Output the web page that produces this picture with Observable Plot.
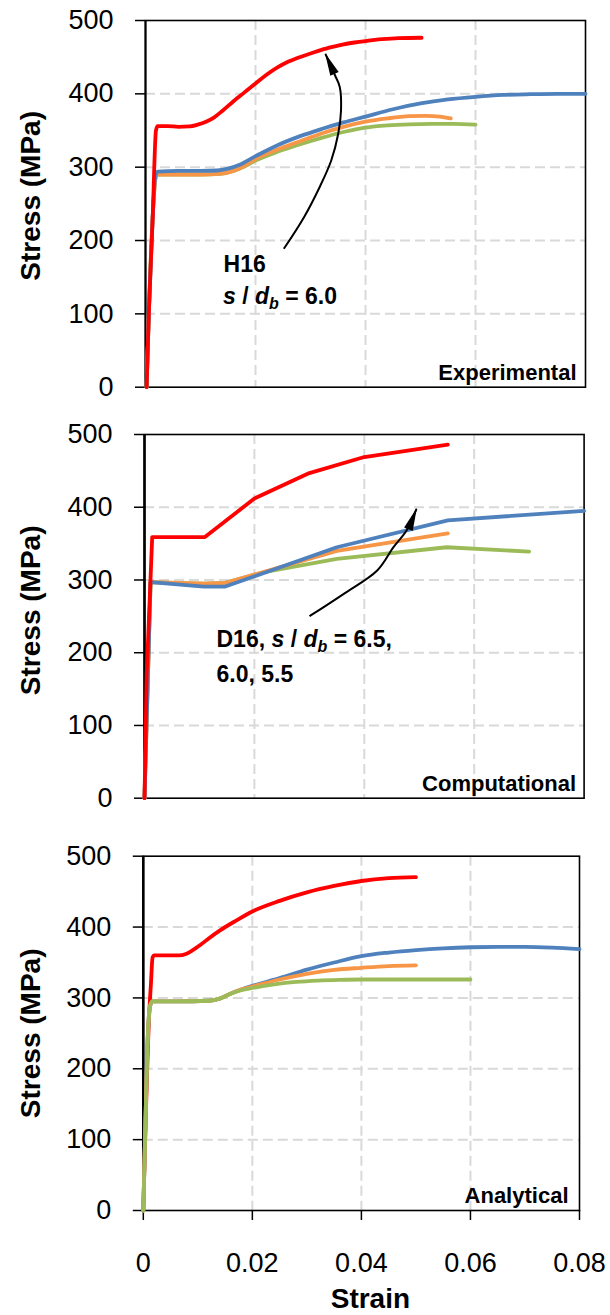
<!DOCTYPE html>
<html>
<head>
<meta charset="utf-8">
<script src="https://cdn.jsdelivr.net/npm/d3@7"></script>
<script src="https://cdn.jsdelivr.net/npm/@observablehq/plot@0.6"></script>
<style>
html, body { margin: 0; padding: 0; background: #fff; }
#wrap { position: relative; width: 610px; height: 1315px; overflow: hidden; background: #fff; }
#wrap svg { position: absolute; left: 0; }
</style>
</head>
<body>
<div id="wrap"></div>
<script>
// ---- axes / ticks ----
const stressTicks = [0, 100, 200, 300, 400, 500];
const strainTicks = [0, 0.02, 0.04, 0.06, 0.08];
const gridStress = [100, 200, 300, 400];
const gridStrain = [0.02, 0.04, 0.06];
const panelTitles = ["Experimental", "Computational", "Analytical"];
const yLabel = "Stress (MPa)";
const xLabel = "Strain";
const colors = { red: "#FF0000", blue: "#4F81BD", orange: "#F79646", green: "#9BBB59" };

// ---- Experimental [strain, stress MPa] ----
const expRed = [[0.0002,0],[0.0006,100],[0.0013,230],[0.0019,350],[0.0022,356],[0.004,356],[0.006,355],[0.008,355.5],[0.0095,358],[0.011,362],[0.0125,368],[0.014,377],[0.016,390],[0.018,402],[0.02,414],[0.022,426],[0.024,436],[0.026,444],[0.028,450],[0.03,455],[0.032,460],[0.034,464],[0.036,467.5],[0.038,470],[0.04,472],[0.043,474.5],[0.046,476],[0.0502,476.5]];
const expBlue = [[0.0002,0],[0.0006,100],[0.0013,230],[0.0018,288],[0.0022,294],[0.006,295],[0.01,295],[0.013,295.5],[0.015,298],[0.017,303],[0.02,315],[0.024,330],[0.028,342],[0.032,352],[0.036,361],[0.04,369],[0.045,379],[0.05,387],[0.055,392.5],[0.06,396],[0.065,398.5],[0.07,399.5],[0.075,400],[0.08,400]];
const expOrange = [[0.0002,0],[0.0006,100],[0.0013,230],[0.0018,284],[0.0022,290],[0.006,290],[0.01,290],[0.0135,291],[0.016,295],[0.018,302],[0.02,311],[0.024,324],[0.028,335],[0.032,346],[0.036,355],[0.04,362],[0.044,366.5],[0.048,369.5],[0.051,370],[0.0535,369],[0.0555,366.5]];
const expGreen = [[0.0002,0],[0.0006,100],[0.0013,230],[0.0018,284],[0.0022,290],[0.006,290],[0.01,290],[0.0135,291],[0.016,295],[0.018,301],[0.02,309],[0.024,321],[0.028,331],[0.032,340],[0.036,348],[0.04,354],[0.044,357],[0.048,358.5],[0.052,359],[0.056,359],[0.06,358]];

// ---- Computational ----
const compRed = [[0,0],[0.0004,170],[0.0014,359],[0.011,359],[0.02,412],[0.03,447],[0.04,469],[0.0552,486]];
const compBlue = [[0,0],[0.0011,297],[0.0108,291],[0.0147,291],[0.035,345],[0.0552,382],[0.08,395]];
const compOrange = [[0,0],[0.0011,297],[0.0108,295],[0.0147,296],[0.035,340],[0.0552,364]];
const compGreen = [[0,0],[0.0011,297],[0.0108,295],[0.0147,296],[0.022,311],[0.035,329],[0.055,345],[0.07,339]];

// ---- Analytical ----
const anaRed = [[0,0],[0.0011,280],[0.0014,320],[0.0017,357],[0.002,360],[0.004,360],[0.0065,360],[0.0078,362],[0.009,367],[0.0105,375],[0.012,384],[0.014,395],[0.017,409],[0.02,422],[0.025,437],[0.03,449],[0.035,458],[0.04,465],[0.045,469],[0.05,470.5]];
const anaBlue = [[0,0],[0.0007,220],[0.001,272],[0.0013,290],[0.0017,295],[0.006,295],[0.012,296],[0.014,299],[0.016,306],[0.018,312],[0.02,317],[0.025,328],[0.03,340],[0.035,350],[0.04,359],[0.045,364],[0.05,367.5],[0.055,370],[0.06,371.5],[0.065,372],[0.07,372],[0.075,371],[0.08,369]];
const anaOrange = [[0,0],[0.0007,220],[0.001,272],[0.0013,290],[0.0017,295],[0.006,295],[0.012,296],[0.014,299],[0.016,306],[0.018,312],[0.02,316],[0.025,326],[0.03,334],[0.035,339.5],[0.04,342.5],[0.045,345],[0.05,346]];
const anaGreen = [[0,0],[0.0007,220],[0.001,272],[0.0013,290],[0.0017,295],[0.006,295],[0.012,296],[0.014,299],[0.016,306],[0.018,311],[0.02,314],[0.024,319],[0.028,322.5],[0.032,324.5],[0.036,325.5],[0.04,326],[0.05,326],[0.06,326]];

// ---- annotations ----
const arrowExp = [[0.02515,188.7],[0.02882,231.8],[0.03165,272.7],[0.03377,309.1],[0.03504,345.5],[0.03555,377.3],[0.03533,409.1],[0.03447,425],[0.03271,454.6]];
const arrowComp = [[0.03003,250.2],[0.03627,281.0],[0.04235,313.0],[0.04531,345.1],[0.04768,368.0],[0.0495,397.9]];
const notesExp = [[0.0142,156.8,"H16"],[0.0141,114.1,"s / db = 6.0"]];
const notesComp = [[0.0131,207.2,"D16, s / db = 6.5,"],[0.0131,160.4,"6.0, 5.5"]];

function rows(pairs) { return pairs.map(([strain, stress]) => ({strain, stress})); }

function richText(svg) {
  d3.select(svg).selectAll("text").each(function() {
    const s = this.textContent;
    const i = s.indexOf("s / db");
    if (i < 0) return;
    const el = d3.select(this);
    const pre = s.slice(0, i), post = s.slice(i + 6);
    el.text(null);
    if (pre) el.append("tspan").text(pre);
    el.append("tspan").attr("font-style", "italic").text("s");
    el.append("tspan").text(" / ");
    el.append("tspan").attr("font-style", "italic").text("d");
    el.append("tspan").attr("font-style", "italic").attr("font-size", 16).attr("dy", 5).text("b");
    el.append("tspan").attr("dy", -5).text(post);
  });
}

function fixMarkers(svg) {
  d3.select(svg).selectAll("marker").each(function() {
    const m = d3.select(this);
    m.attr("viewBox", "-24 -5 25 10").attr("markerUnits", "userSpaceOnUse")
     .attr("markerWidth", 25).attr("markerHeight", 10)
     .attr("refX", 0).attr("refY", 0)
     .attr("fill", "black").attr("stroke", "none");
    m.selectAll("*").remove();
    m.append("path").attr("d", "M1,0L-22,-4.6L-22,4.6Z");
  });
}

function makePanel(cfg) {
  const marks = [
    Plot.ruleY(gridStress, {stroke: "#d9d9d9", strokeWidth: 2, strokeDasharray: "10,5"}),
    Plot.ruleX(gridStrain, {stroke: "#d9d9d9", strokeWidth: 2, strokeDasharray: "10,5"}),
    Plot.frame({stroke: "black", strokeWidth: 1.6}),
    Plot.ruleX([0], {stroke: "black", strokeWidth: cfg.axisWidth}),
    Plot.axisY({ticks: stressTicks, tickSize: 10, tickPadding: 22, fontSize: 27, strokeWidth: 1.5, label: null, tickFormat: d => String(d)})
  ];
  if (cfg.showX) {
    marks.push(Plot.axisX({ticks: strainTicks, tickSize: 10, tickPadding: 32, fontSize: 27, strokeWidth: 1.5, label: null, tickFormat: d => String(d)}));
    marks.push(Plot.text([xLabel], {frameAnchor: "bottom", textAnchor: "middle", lineAnchor: "middle", dx: 9, dy: 89, fontWeight: "bold", fontSize: 28}));
  }
  for (const s of cfg.series) {
    marks.push(Plot.line(rows(s.data), {x: "strain", y: "stress", stroke: s.color, strokeWidth: 3.8, curve: cfg.curve}));
  }
  if (cfg.arrow) {
    marks.push(Plot.line(rows(cfg.arrow), {x: "strain", y: "stress", stroke: "black", strokeWidth: 2, curve: "catmull-rom", markerEnd: "arrow", strokeLinecap: "butt"}));
  }
  if (cfg.notes) {
    marks.push(Plot.text(cfg.notes, {x: d => d[0], y: d => d[1], text: d => d[2], textAnchor: "start", lineAnchor: "bottom", fontWeight: "bold", fontSize: 23, fill: "black"}));
  }
  marks.push(Plot.text([cfg.title], {frameAnchor: "bottom-right", textAnchor: "end", lineAnchor: "bottom", dx: cfg.titleDx, dy: cfg.titleDy, fontWeight: "bold", fontSize: 22}));
  marks.push(Plot.text([yLabel], {frameAnchor: "left", textAnchor: "middle", lineAnchor: "middle", rotate: -90, dx: 31 - cfg.ml, dy: cfg.labelDy, fontWeight: "bold", fontSize: 28}));

  const svg = Plot.plot({
    width: 610,
    height: cfg.height,
    marginTop: cfg.mt,
    marginBottom: cfg.mb,
    marginLeft: cfg.ml,
    marginRight: cfg.mr,
    x: {domain: [0, 0.08], axis: cfg.showX ? undefined : null},
    y: {domain: [0, 500]},
    style: {fontFamily: "'Liberation Sans', Arial, sans-serif", fontSize: "27px", color: "black", background: "transparent", overflow: "visible"},
    marks
  });
  richText(svg);
  fixMarkers(svg);
  svg.style.top = cfg.top + "px";
  document.getElementById("wrap").appendChild(svg);
}

makePanel({
  top: 0, height: 420, mt: 20, mb: 33.3, ml: 145, mr: 25, axisWidth: 2,
  curve: "monotone-x", title: panelTitles[0], titleDx: -9, titleDy: -7, labelDy: -8,
  series: [
    {data: expGreen, color: colors.green},
    {data: expOrange, color: colors.orange},
    {data: expBlue, color: colors.blue},
    {data: expRed, color: colors.red}
  ],
  arrow: arrowExp, notes: notesExp
});

makePanel({
  top: 420, height: 420, mt: 14, mb: 42.3, ml: 144, mr: 26.4, axisWidth: 2.6,
  curve: "linear", title: panelTitles[1], titleDx: -8, titleDy: -7, labelDy: -6,
  series: [
    {data: compGreen, color: colors.green},
    {data: compOrange, color: colors.orange},
    {data: compBlue, color: colors.blue},
    {data: compRed, color: colors.red}
  ],
  arrow: arrowComp, notes: notesComp
});

makePanel({
  top: 840, height: 475, mt: 15.7, mb: 105, ml: 142.8, mr: 31, axisWidth: 2.6, showX: true,
  curve: "monotone-x", title: panelTitles[2], titleDx: -11, titleDy: -8, labelDy: 0,
  series: [
    {data: anaRed, color: colors.red},
    {data: anaBlue, color: colors.blue},
    {data: anaOrange, color: colors.orange},
    {data: anaGreen, color: colors.green}
  ]
});
</script>
</body>
</html>
